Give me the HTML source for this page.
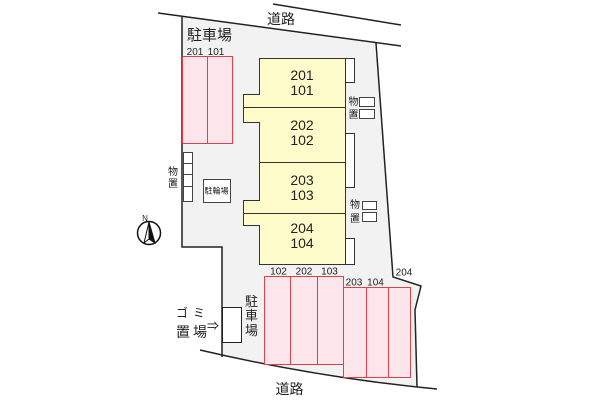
<!DOCTYPE html>
<html><head><meta charset="utf-8"><style>
html,body{margin:0;padding:0;background:#fff;}
svg{display:block;}
text{font-family:"Liberation Sans","Noto Sans CJK JP",sans-serif;fill:#222;}
</style></head><body>
<svg width="600" height="400" viewBox="0 0 600 400" xmlns="http://www.w3.org/2000/svg">
<!-- lot fill -->
<path d="M182,17 L376,43 L393,277 L421,286 L415,310 L417,387 L380,383 L343,378 L300,370 L263,364 L222,356 L222,247 L182,247 Z" fill="#f2f2f2"/>
<!-- roads -->
<line x1="273" y1="4" x2="401" y2="25" stroke="#222" stroke-width="1.5"/>
<line x1="158" y1="13" x2="401" y2="46" stroke="#222" stroke-width="1.5"/>
<path d="M200,350 Q320,378 437,389" fill="none" stroke="#222" stroke-width="1.5"/>
<!-- lot outline -->
<path d="M182,17 L182,247 L222,247 L222,357" fill="none" stroke="#222" stroke-width="1.5"/>
<path d="M376,43 L393,277 L421,286 L415,310 L417,387" fill="none" stroke="#222" stroke-width="1.5"/>

<g transform="translate(0.5,0.5)">
<!-- top-left parking -->
<rect x="182" y="56" width="50" height="87" fill="#fde5ec" stroke="#e0404a" stroke-width="1"/>
<line x1="207" y1="56" x2="207" y2="143" stroke="#e0404a" stroke-width="1"/>

<!-- building -->
<path d="M259,58 H345 V264 H259 V225 H243 V200 H259 V122 H243 V94 H259 Z" fill="#fdfbc9" stroke="#333" stroke-width="1"/>
<line x1="243" y1="107" x2="345" y2="107" stroke="#333" stroke-width="1"/>
<line x1="259" y1="162" x2="345" y2="162" stroke="#333" stroke-width="1"/>
<line x1="243" y1="213" x2="345" y2="213" stroke="#333" stroke-width="1"/>
<rect x="345" y="58" width="9" height="24" fill="#fff" stroke="#333" stroke-width="1"/>
<rect x="345" y="133" width="9" height="54" fill="#fff" stroke="#333" stroke-width="1"/>
<rect x="345" y="238" width="9" height="26" fill="#fff" stroke="#333" stroke-width="1"/>

<!-- right storage -->
<rect x="359" y="97" width="15" height="9" fill="#fff" stroke="#444" stroke-width="1"/>
<rect x="359" y="109" width="15" height="9" fill="#fff" stroke="#444" stroke-width="1"/>
<rect x="362" y="201" width="14" height="8" fill="#fff" stroke="#444" stroke-width="1"/>
<rect x="362" y="212" width="14" height="9" fill="#fff" stroke="#444" stroke-width="1"/>

<!-- left storage -->
<rect x="183" y="152" width="9" height="11" fill="#fff" stroke="#444" stroke-width="1"/>
<rect x="183" y="163" width="9" height="11" fill="#fff" stroke="#444" stroke-width="1"/>
<rect x="183" y="174" width="9" height="12" fill="#fff" stroke="#444" stroke-width="1"/>
<rect x="183" y="186" width="9" height="15" fill="#fff" stroke="#444" stroke-width="1"/>

<!-- bicycle parking -->
<rect x="203" y="179" width="27" height="23" fill="#fff" stroke="#444" stroke-width="1"/>

<!-- garbage -->
<rect x="222" y="307" width="19" height="35" fill="#fff" stroke="#222" stroke-width="1"/>

<!-- bottom parking -->
<rect x="264" y="276" width="79" height="88" fill="#fde5ec" stroke="#e0404a" stroke-width="1"/>
<line x1="290" y1="276" x2="290" y2="364" stroke="#e0404a" stroke-width="1"/>
<line x1="317" y1="276" x2="317" y2="364" stroke="#e0404a" stroke-width="1"/>
<rect x="343" y="287" width="67" height="90" fill="#fde5ec" stroke="#e0404a" stroke-width="1"/>
<line x1="366" y1="287" x2="366" y2="377" stroke="#e0404a" stroke-width="1"/>
<line x1="388" y1="287" x2="388" y2="377" stroke="#e0404a" stroke-width="1"/>
</g>

<text x="195" y="55" font-size="10" text-anchor="middle">201</text>
<text x="216" y="55" font-size="10" text-anchor="middle">101</text>
<text x="209.5" y="40" font-size="15" text-anchor="middle">駐車場</text>
<text x="281" y="24" font-size="14" text-anchor="middle">道路</text>
<text x="289.5" y="394" font-size="14" text-anchor="middle">道路</text>

<g font-size="14" text-anchor="middle">
<text x="302" y="80">201</text><text x="302" y="95">101</text>
<text x="302" y="130">202</text><text x="302" y="145">102</text>
<text x="302" y="185">203</text><text x="302" y="200">103</text>
<text x="302" y="233">204</text><text x="302" y="248">104</text>
</g>

<text x="353.5" y="105" font-size="10" text-anchor="middle">物</text>
<text x="353.5" y="118" font-size="10" text-anchor="middle">置</text>
<text x="355" y="208" font-size="10" text-anchor="middle">物</text>
<text x="355" y="222" font-size="10" text-anchor="middle">置</text>
<text x="173" y="175" font-size="10" text-anchor="middle">物</text>
<text x="173" y="187" font-size="10" text-anchor="middle">置</text>

<text x="216.5" y="193.5" font-size="8" text-anchor="middle">駐輪場</text>

<!-- compass -->
<circle cx="149" cy="233" r="11.5" fill="#fff" stroke="#111" stroke-width="1.5"/>
<polygon points="149,222 144,243 149,239" fill="#fff" stroke="#111" stroke-width="1"/>
<polygon points="149,222 155,243 149,239" fill="#111" stroke="#111" stroke-width="1"/>
<text x="145" y="221" font-size="8" text-anchor="middle">N</text>

<text x="182" y="317" font-size="12" text-anchor="middle">ゴ</text>
<text x="199" y="317" font-size="12" text-anchor="middle">ミ</text>
<text x="183" y="337" font-size="14" text-anchor="middle">置</text>
<text x="200" y="337" font-size="14" text-anchor="middle">場</text>
<text x="213" y="330" font-size="12" text-anchor="middle">⇒</text>

<text x="251.5" y="306" font-size="13" text-anchor="middle">駐</text>
<text x="251.5" y="320" font-size="13" text-anchor="middle">車</text>
<text x="251.5" y="335" font-size="13" text-anchor="middle">場</text>

<g font-size="10" text-anchor="middle">
<text x="278.5" y="274.5">102</text>
<text x="304" y="274.5">202</text>
<text x="329.5" y="274.5">103</text>
<text x="354" y="285.5">203</text>
<text x="375.5" y="285.5">104</text>
<text x="404" y="275.5">204</text>
</g>
</svg>
</body></html>
